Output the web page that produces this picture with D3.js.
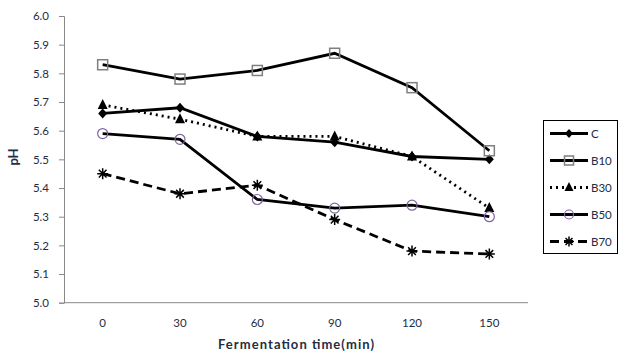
<!DOCTYPE html>
<html><head><meta charset="utf-8">
<script src="https://cdn.jsdelivr.net/npm/d3@7"></script>
<style>body{margin:0;background:#fff}svg{display:block}text{font-family:Lato,"Open Sans",sans-serif}</style>
</head><body>
<svg id="c" width="625" height="355"></svg>
<script>
const categories = ["0","30","60","90","120","150"];
const seriesNames = ["C","B10","B30","B50","B70"];
const C   = [5.66,5.68,5.58,5.56,5.51,5.50];
const B10 = [5.83,5.78,5.81,5.87,5.75,5.53];
const B30 = [5.69,5.64,5.58,5.58,5.51,5.33];
const B50 = [5.59,5.57,5.36,5.33,5.34,5.30];
const B70 = [5.45,5.38,5.41,5.29,5.18,5.17];
const yTicks = [5.0,5.1,5.2,5.3,5.4,5.5,5.6,5.7,5.8,5.9,6.0];
const values = [C,B10,B30,B50,B70];

const styles = {
  C:{dash:null, marker:"diamond"},
  B10:{dash:null, marker:"square"},
  B30:{dash:"2,4", marker:"triangle"},
  B50:{dash:null, marker:"circle"},
  B70:{dash:"9,5", marker:"star"}
};

const svg = d3.select("#c");
const L=64,R=528,T=16,B=302.7;
const x = d3.scaleBand().domain(categories).range([L,R]);
const y = d3.scaleLinear().domain([5.0,6.0]).range([B,T]);
const tc = "#1f2d44";

// axes
const ya = svg.append("g").attr("transform",`translate(${L},0)`)
  .call(d3.axisLeft(y).tickValues(yTicks).tickFormat(d3.format(".1f")).tickSize(5).tickPadding(10));
ya.select(".domain").attr("stroke","#888");
ya.selectAll(".tick line").attr("stroke","#888");
ya.selectAll("text").attr("fill",tc).style("font-size","11.5px");

const xa = svg.append("g").attr("transform",`translate(0,${B})`)
  .call(d3.axisBottom(x).tickSize(0).tickPadding(16));
xa.select(".domain").attr("stroke","#888").attr("d",`M${L},0H${R}`);
xa.selectAll("text").attr("fill",tc).style("font-size","11.5px");

svg.append("text").attr("x",296).attr("y",349).attr("text-anchor","middle")
  .attr("fill",tc).style("font-size","13px").style("font-weight","bold")
  .attr("textLength",156).attr("lengthAdjust","spacing").text("Fermentation time(min)");
svg.append("text").attr("transform","translate(18,157) rotate(-90)").attr("text-anchor","middle")
  .attr("fill",tc).style("font-size","13px").style("font-weight","bold").text("pH");

function drawMarker(g, type, cx, cy, s){
  s = s||1;
  if(type==="diamond"){
    g.append("path").attr("d",`M${cx},${cy-5*s}L${cx+4.5*s},${cy}L${cx},${cy+5*s}L${cx-4.5*s},${cy}Z`).attr("fill","#000");
  } else if(type==="square"){
    g.append("rect").attr("x",cx-5*s).attr("y",cy-5*s).attr("width",10*s).attr("height",10*s)
      .attr("fill","none").attr("stroke","#7f7f7f").attr("stroke-width",1.5);
  } else if(type==="triangle"){
    g.append("path").attr("d",`M${cx},${cy-6*s}L${cx+5*s},${cy+4*s}L${cx-5*s},${cy+4*s}Z`).attr("fill","#000");
  } else if(type==="circle"){
    g.append("circle").attr("cx",cx).attr("cy",cy).attr("r",5*s).attr("fill","none")
      .attr("stroke","#8064a2").attr("stroke-width",1.2);
  } else if(type==="star"){
    const r=5.5*s;
    g.append("path").attr("d",`M${cx-r},${cy}L${cx+r},${cy}M${cx-r*0.7},${cy-r*0.7}L${cx+r*0.7},${cy+r*0.7}M${cx-r*0.7},${cy+r*0.7}L${cx+r*0.7},${cy-r*0.7}M${cx},${cy-r}L${cx},${cy+r}`)
      .attr("stroke","#000").attr("stroke-width",1.5).attr("fill","none");
  }
}

const line = d3.line().x((d,i)=>x(categories[i])+x.bandwidth()/2).y(d=>y(d));
seriesNames.forEach((n,k)=>{
  const g = svg.append("g");
  g.append("path").datum(values[k]).attr("d",line).attr("fill","none").attr("stroke","#000")
    .attr("stroke-width",2.8).attr("stroke-dasharray",styles[n].dash);
  values[k].forEach((v,i)=>drawMarker(g,styles[n].marker,x(categories[i])+x.bandwidth()/2,y(v)));
});

// legend
svg.append("rect").attr("x",543.5).attr("y",120.5).attr("width",74).attr("height",133)
  .attr("fill","#fff").attr("stroke","#000").attr("stroke-width",1);
seriesNames.forEach((n,k)=>{
  const ly = 133.5 + k*27;
  const g = svg.append("g");
  g.append("line").attr("x1",550).attr("x2",588).attr("y1",ly).attr("y2",ly).attr("stroke","#000")
    .attr("stroke-width",2.8).attr("stroke-dasharray",styles[n].dash);
  drawMarker(g,styles[n].marker,569,ly,0.9);
  g.append("text").attr("x",591).attr("y",ly+4).attr("fill",tc).style("font-size","11.5px").text(n);
});
</script>
</body></html>
